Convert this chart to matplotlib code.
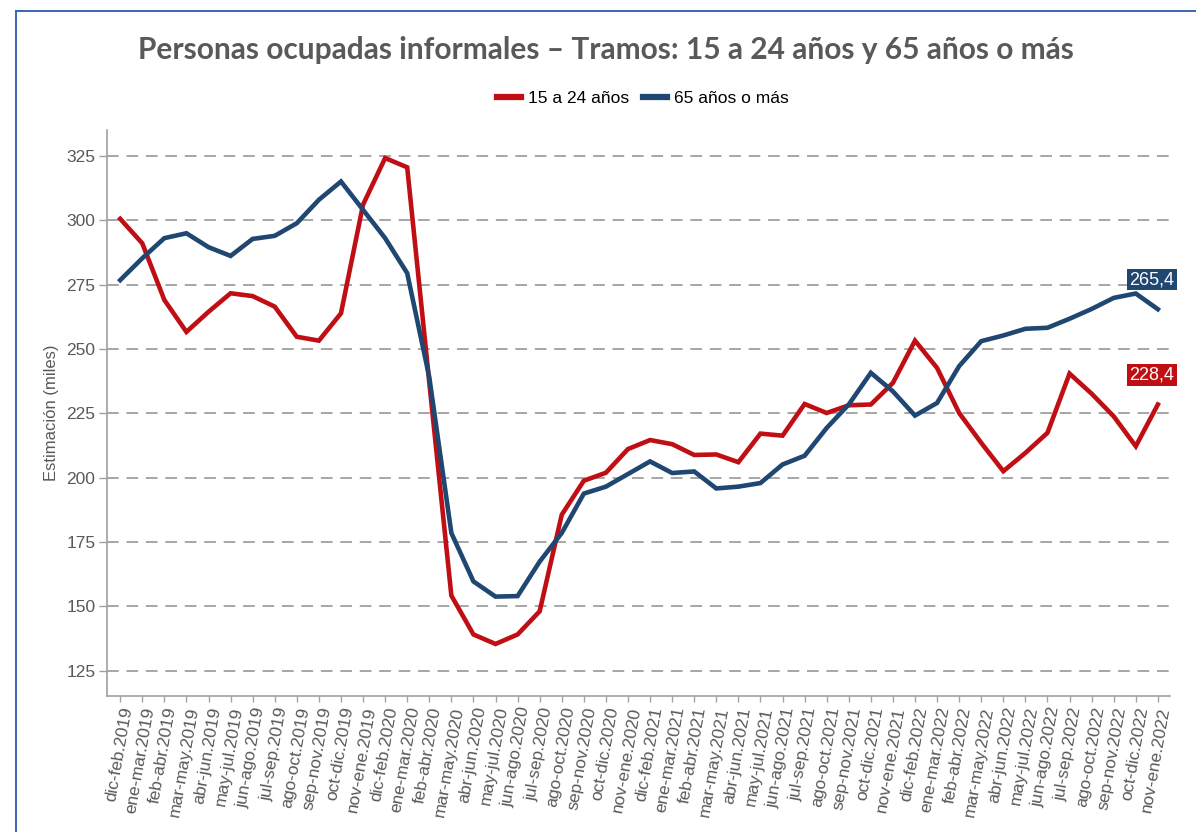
import matplotlib
matplotlib.use("Agg")
import matplotlib.pyplot as plt
from matplotlib.lines import Line2D

categories = [
    "dic-feb.2019", "ene-mar.2019", "feb-abr.2019", "mar-may.2019", "abr-jun.2019", "may-jul.2019",
    "jun-ago.2019", "jul-sep.2019", "ago-oct.2019", "sep-nov.2019", "oct-dic.2019", "nov-ene.2019",
    "dic-feb.2020", "ene-mar.2020", "feb-abr.2020", "mar-may.2020", "abr-jun.2020", "may-jul.2020",
    "jun-ago.2020", "jul-sep.2020", "ago-oct.2020", "sep-nov.2020", "oct-dic.2020", "nov-ene.2020",
    "dic-feb.2021", "ene-mar.2021", "feb-abr.2021", "mar-may.2021", "abr-jun.2021", "may-jul.2021",
    "jun-ago.2021", "jul-sep.2021", "ago-oct.2021", "sep-nov.2021", "oct-dic.2021", "nov-ene.2021",
    "dic-feb.2022", "ene-mar.2022", "feb-abr.2022", "mar-may.2022", "abr-jun.2022", "may-jul.2022",
    "jun-ago.2022", "jul-sep.2022", "ago-oct.2022", "sep-nov.2022", "oct-dic.2022", "nov-ene.2022",
]

jovenes_15_24 = [
    300.5, 291.0, 269.0, 256.6, 264.4, 271.6, 270.5, 266.4, 254.7, 253.2, 263.8, 306.0,
    324.1, 320.5, 237.0, 154.2, 139.1, 135.4, 139.1, 148.1, 185.6, 198.8, 201.9, 211.1,
    214.6, 213.0, 208.8, 209.0, 206.0, 217.1, 216.3, 228.6, 225.1, 228.1, 228.4, 236.8,
    253.2, 242.6, 225.1, 213.5, 202.5, 209.6, 217.4, 240.4, 232.6, 223.8, 212.2, 228.4,
]

mayores_65 = [
    276.7, 285.2, 293.0, 294.9, 289.5, 286.1, 292.7, 293.9, 298.8, 307.9, 315.0, 304.0,
    293.0, 279.4, 239.0, 178.5, 159.7, 153.8, 154.0, 167.4, 178.5, 193.8, 196.5, 201.4,
    206.3, 201.8, 202.4, 195.8, 196.5, 197.9, 205.1, 208.5, 219.3, 228.4, 240.7, 233.5,
    224.1, 229.0, 243.3, 253.0, 255.2, 257.8, 258.2, 261.7, 265.5, 269.8, 271.5, 265.4,
]

series_names = ["15 a 24 años", "65 años o más"]
series_colors = ["#C00F14", "#1F4772"]
yticks = [125, 150, 175, 200, 225, 250, 275, 300, 325]

TXT = "#595959"
W, H = 1196, 832
fig = plt.figure(figsize=(W / 100, H / 100), dpi=100)
fig.patch.set_facecolor("white")

ax = fig.add_axes([106.5 / W, 1 - 696 / H, (1170 - 106.5) / W, (696 - 130) / H])
x = list(range(len(categories)))

for vals, name, col in zip([jovenes_15_24, mayores_65], series_names, series_colors):
    ax.plot(x, vals, color=col, lw=3.3, label=name, solid_joinstyle="miter", zorder=3)

ax.set_xlim(-0.62, 47.55)
ax.set_ylim(115.2, 335)
ax.set_yticks(yticks)
ax.set_yticklabels([str(v) for v in yticks], fontsize=12.5, color=TXT, family="Liberation Sans")
ax.set_xticks(x)
ax.set_xticklabels(categories, rotation=80, ha="right", va="top", rotation_mode="anchor",
                   fontsize=12.5, color=TXT, family="Liberation Sans")

ax.grid(axis="y", color="#A6A6A6", lw=1.4, ls=(0, (6, 4)), zorder=1)
ax.grid(axis="x", visible=False)
for s in ["top", "right"]:
    ax.spines[s].set_visible(False)
for s in ["left", "bottom"]:
    ax.spines[s].set_color("#A0A0A0")
    ax.spines[s].set_linewidth(1.2)
ax.tick_params(axis="y", length=6, color="#A0A0A0", width=1.0, pad=2)
ax.tick_params(axis="x", length=4, color="#A0A0A0", width=1.0, pad=3)

ax.set_ylabel("Estimación (miles)", fontsize=12, color=TXT, family="Liberation Sans", labelpad=5)

# end-value labels
ends = [(jovenes_15_24[-1], series_colors[0]), (mayores_65[-1], series_colors[1])]
for v, col in ends:
    ax.text(x[-1] - 0.27, v + 11.5, f"{v:.1f}".replace(".", ","), fontsize=13, color="white",
            family="Liberation Sans", ha="center", va="center", zorder=5,
            bbox=dict(boxstyle="square,pad=0.12", fc=col, ec="none"))

fig.text(606 / W, 1 - 50 / H,
         "Personas ocupadas informales – Tramos: 15 a 24 años y 65 años o más",
         ha="center", va="center", fontsize=21.5, fontweight="bold", color=TXT, family="Lato")

handles = [Line2D([0], [0], color=c, lw=4.5) for c in series_colors]
fig.legend(handles, series_names, loc="center", bbox_to_anchor=(643 / W, 1 - 98 / H), ncol=2,
           frameon=False, handlelength=1.4, handletextpad=0.4, columnspacing=0.8,
           prop={"family": "Liberation Sans", "size": 12.5})

# outer frame
fig.add_artist(Line2D([16 / W, 16 / W], [0, 1 - 11 / H], color="#3A66B0", lw=1.4))
fig.add_artist(Line2D([16 / W, 1], [1 - 11 / H, 1 - 11 / H], color="#3A66B0", lw=1.4))

fig.savefig("out.png", dpi=100, facecolor="white")
